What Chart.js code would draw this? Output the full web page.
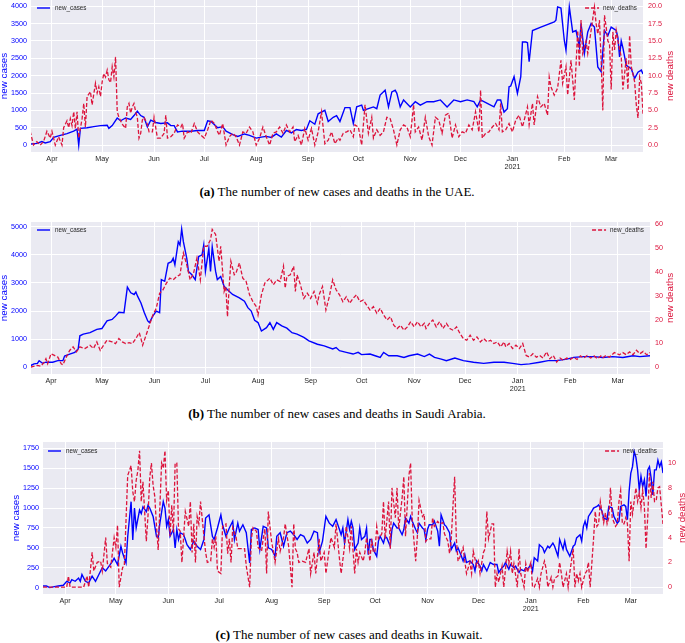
<!DOCTYPE html>
<html><head><meta charset="utf-8">
<script src="https://cdn.jsdelivr.net/npm/chart.js@4.4.0/dist/chart.umd.min.js"></script>
<style>
html,body{margin:0;padding:0;background:#fff;width:685px;height:643px;overflow:hidden;position:relative}
canvas{position:absolute;left:0}
.cap{position:absolute;font-family:"Liberation Serif","Times New Roman",serif;font-size:13px;line-height:13px;white-space:nowrap;color:#000;transform:translateX(-50%)}
</style></head><body>
<canvas id="ca" style="top:0;width:685px;height:178px" width="685" height="178"></canvas>
<canvas id="cb" style="top:210px;width:685px;height:190px" width="685" height="190"></canvas>
<canvas id="cc" style="top:430px;width:685px;height:181px" width="685" height="181"></canvas>
<div class="cap" style="left:337px;top:184.6px"><b>(a)</b> The number of new cases and deaths in the UAE.</div>
<div class="cap" style="left:337px;top:406.6px"><b>(b)</b> The number of new cases and deaths in Saudi Arabia.</div>
<div class="cap" style="left:349px;top:628.3px"><b>(c)</b> The number of new cases and deaths in Kuwait.</div>
<script>
// day 0 = 2020-03-19
const START_DATE = '2020-03-19';
const monthTickDays = [13,43,74,104,135,166,196,227,257,288,319,347];
const monthTickLabels = ['Apr','May','Jun','Jul','Aug','Sep','Oct','Nov','Dec',['Jan','2021'],'Feb','Mar'];

// [day offset, value]
const uaeNewCases = [[0,30],[4,50],[7,100],[9,60],[12,100],[14,220],[18,280],[22,330],[26,400],[28,460],[29,0],[30,480],[34,500],[38,530],[42,560],[46,570],[47,480],[49,560],[52,780],[54,700],[57,780],[60,740],[62,850],[64,980],[66,850],[68,800],[70,520],[72,720],[75,650],[78,620],[82,640],[84,560],[86,560],[88,380],[91,400],[96,400],[100,420],[104,420],[106,700],[108,680],[112,500],[115,530],[117,400],[121,300],[124,250],[128,320],[131,280],[135,200],[138,230],[141,250],[144,220],[147,320],[150,230],[153,420],[156,350],[159,450],[162,420],[165,450],[167,700],[170,600],[172,900],[176,1000],[178,680],[181,800],[183,850],[185,680],[188,1080],[191,1080],[193,620],[195,1100],[198,1150],[199,1000],[202,1050],[205,1100],[207,1050],[209,1440],[212,1580],[214,1100],[216,1530],[218,1580],[219,1490],[221,1100],[223,1300],[227,1100],[230,1250],[233,1150],[237,1250],[241,1250],[245,1300],[249,1100],[253,1300],[257,1250],[261,1300],[265,1250],[267,1100],[269,1300],[273,1200],[277,1100],[279,1300],[281,1300],[283,950],[285,1050],[286,1680],[287,1700],[289,1970],[291,1490],[293,1970],[294,2970],[296,2970],[297,2950],[298,2400],[300,3300],[305,3400],[313,3550],[314,3600],[315,3980],[317,3950],[319,3020],[320,2730],[322,3980],[324,3260],[326,3300],[328,2830],[329,3500],[331,2640],[333,3260],[335,3500],[337,3400],[339,2250],[341,2110],[343,3300],[345,3150],[347,3400],[350,3300],[351,3100],[352,2540],[353,3000],[354,2800],[356,2300],[359,2200],[361,1920],[363,2100],[365,2160],[366,2050]];
const uaeNewDeaths = [[0,2],[2,0],[4,0.5],[6,0],[8,0.5],[10,2],[12,1],[13,2],[15,0],[17,1.2],[19,0],[20,2.5],[22,3.5],[23,2.5],[24,3.8],[25,2.8],[26,4.8],[27,2.4],[28,4.8],[29,1],[31,3.8],[32,6],[33,2.6],[34,7],[36,7.7],[37,5.8],[39,8.9],[40,7.5],[41,8.4],[42,7],[43,9.1],[44,10.3],[45,9.8],[46,10.8],[47,9.4],[48,9],[49,11.3],[50,9.8],[51,12.7],[52,4.8],[53,4],[55,3],[57,2.4],[58,5.5],[59,6],[60,4.6],[61,5.5],[62,6],[63,4.8],[64,4],[65,1],[66,1.7],[67,3.6],[68,4],[70,3],[71,1.9],[73,1.9],[74,4],[76,1],[78,1],[80,1.7],[81,4.3],[82,1],[84,1.2],[86,1.7],[88,2.9],[90,2.6],[91,3.1],[92,1],[94,1.9],[96,1.7],[98,3.1],[100,1.9],[102,1.4],[104,1],[106,2.2],[108,3.6],[110,3.1],[112,1.9],[113,1.4],[115,3.1],[117,0],[119,1.2],[121,1.7],[123,1.2],[125,0],[127,1.9],[129,1.7],[131,2.6],[133,1.9],[135,0],[137,1],[139,2.6],[141,1.2],[143,0],[145,1.7],[147,1.9],[149,2.6],[151,1.7],[153,2.9],[155,1.9],[157,2.6],[158,0.5],[160,1.4],[162,0],[164,2.4],[166,0.7],[168,2.4],[170,0],[172,1.9],[174,4.8],[176,0.2],[178,0.7],[180,1.9],[182,0.2],[184,1],[185,0.7],[187,1.7],[189,1.9],[191,2.2],[193,1.2],[194,2.9],[196,2.6],[198,0],[200,5.8],[202,1.7],[204,4],[205,1],[207,2.2],[209,1.4],[211,1.9],[213,4],[215,3.8],[217,2.2],[219,0],[221,2.2],[223,2.9],[225,2.6],[227,1.2],[229,5.8],[230,1.9],[232,2.6],[234,0.7],[236,4],[238,1.2],[240,0],[242,4],[244,3.6],[246,1.7],[248,4.3],[250,4.6],[252,1],[254,2.9],[256,1.2],[258,1.9],[260,1.7],[262,2.9],[264,2.2],[266,4.8],[268,1.9],[269,7.9],[270,1],[272,1.7],[274,1.9],[276,2.6],[278,3.1],[280,2.2],[281,6],[282,1.9],[284,2.2],[286,3.1],[288,1.9],[290,3.6],[292,4.3],[294,2.6],[296,4.5],[297,5.5],[298,2.9],[300,6],[301,2.9],[303,7],[305,5.5],[307,6],[309,4.3],[310,9.8],[311,8.4],[313,7.2],[315,8.2],[317,12.2],[318,8.9],[320,11.3],[321,7.2],[323,12.2],[325,6.5],[327,16.5],[328,11.3],[329,18],[330,13.2],[332,15],[333,13.2],[335,16.5],[337,19.9],[338,17.5],[339,16],[340,18],[341,12.2],[342,5],[343,18.7],[344,17],[345,15],[346,14.6],[347,8],[348,16.3],[349,13.7],[350,16.5],[351,15],[353,12.7],[354,8],[356,12.5],[357,8],[358,15.8],[359,11.3],[361,9.1],[362,5.8],[363,3.9],[364,9.8],[365,8.9],[366,4.5]];

const ksaNewCases = [[1,60],[3,120],[5,140],[6,235],[8,140],[10,180],[14,180],[17,235],[20,235],[21,400],[24,470],[27,530],[29,650],[30,1120],[32,1180],[36,1230],[40,1350],[43,1380],[46,1650],[49,1700],[51,1820],[53,1960],[56,1940],[58,2850],[60,2650],[62,2590],[63,2680],[64,2530],[66,2290],[68,1940],[70,1650],[71,1590],[73,1820],[75,2000],[77,1940],[78,3120],[80,3060],[82,3700],[84,3760],[85,3880],[86,3650],[88,4470],[89,4350],[90,4920],[91,4470],[93,3880],[94,3410],[96,3290],[98,3120],[100,3940],[102,4000],[103,4350],[104,3410],[106,4230],[107,3410],[108,4290],[110,3410],[111,3120],[113,3230],[115,2880],[117,2760],[120,2590],[124,2470],[127,2350],[129,2120],[131,2000],[133,1670],[135,1590],[137,1290],[140,1410],[142,1590],[144,1350],[146,1590],[149,1470],[152,1390],[155,1230],[158,1180],[162,1060],[165,940],[170,820],[174,760],[179,650],[181,700],[183,590],[187,530],[191,470],[194,530],[196,450],[201,470],[204,410],[207,350],[209,530],[212,410],[217,410],[221,350],[224,410],[229,470],[233,380],[236,470],[239,350],[243,290],[246,235],[251,330],[256,235],[262,180],[268,140],[274,180],[280,180],[285,140],[290,95],[295,120],[301,180],[306,235],[311,235],[317,290],[321,350],[327,380],[333,380],[338,350],[344,380],[350,350],[356,410],[360,380],[366,410]];
const ksaNewDeaths = [[1,0],[5,0.7],[7,0.4],[9,2.1],[10,3.5],[11,1.4],[13,5.6],[15,4.9],[17,4.2],[19,1.4],[20,1],[22,4.2],[24,7],[26,8.5],[28,6.4],[30,8.5],[33,7.8],[36,9.2],[38,7.8],[40,10.6],[42,7],[44,9.2],[46,11.3],[49,10.6],[51,9.9],[53,12],[55,10.6],[57,9.9],[59,10.3],[61,9.9],[63,12],[65,14.5],[66,12],[67,9.2],[69,13.4],[71,17.6],[73,21.9],[75,24.7],[77,31],[79,32.5],[81,35.3],[83,37.4],[85,36.7],[87,38.1],[89,38.8],[91,48],[93,43],[95,36.7],[97,39.5],[99,45.9],[101,36.7],[103,50.8],[105,50.8],[107,53.6],[108,57.9],[110,55.8],[112,44.5],[113,50.8],[115,31.8],[116,33.9],[117,21.2],[118,33.9],[119,44.5],[121,38.8],[122,39.5],[124,43.8],[126,37.4],[128,36],[130,30.4],[132,27.5],[134,25.4],[135,21.9],[137,30.4],[139,35.3],[142,37.4],[144,34.6],[146,36.7],[148,36],[150,42.4],[151,33.2],[152,38.1],[154,38.8],[156,42.4],[157,31.8],[158,38.8],[160,34.6],[162,28.9],[164,31.1],[166,28.9],[168,31.8],[170,26.8],[171,30.4],[173,33.9],[175,24],[177,29.6],[179,36.7],[181,32.5],[183,30.4],[185,27.5],[187,29.6],[189,26.8],[191,28.9],[193,30.4],[195,27.5],[197,28.2],[199,26.1],[201,24],[203,25.4],[205,22.6],[207,24.7],[209,21.9],[211,19.8],[213,21.2],[215,17.6],[217,16.2],[219,17.6],[221,15.5],[223,16.9],[225,19.1],[227,16.9],[229,19.1],[231,16.9],[233,18.4],[234,16.2],[236,18.4],[238,19.8],[240,16.9],[242,19.1],[244,16.2],[246,18.4],[248,16.2],[250,15.5],[252,16.9],[254,14.1],[256,12],[258,11.3],[260,13.4],[262,11.3],[264,12.7],[266,10.6],[268,12],[270,10.6],[272,11.3],[274,9.9],[276,10.6],[278,8.5],[280,10.6],[281,8.5],[283,9.9],[285,7.8],[287,9.2],[289,7.8],[291,9.9],[293,4.9],[295,4.2],[297,5.6],[299,4.2],[301,4.9],[303,3.8],[305,6.4],[307,3.5],[309,4.9],[311,2.1],[313,3.8],[315,2.8],[317,3.8],[319,3.2],[321,4.2],[323,3.2],[325,4.7],[327,3.8],[329,4.9],[331,3.8],[333,4.7],[335,3.5],[337,4.7],[338,3.8],[340,4.9],[342,4.2],[345,6.1],[348,5.2],[350,6.1],[352,5.2],[354,6.4],[356,5.2],[358,7.1],[360,5.6],[362,6.6],[364,5.2],[366,6.1]];

const kwtNewCases = [[0,20],[2,20],[4,0],[6,10],[9,20],[12,30],[14,80],[16,60],[17,100],[19,80],[21,120],[22,80],[23,165],[25,80],[27,60],[29,145],[31,80],[33,165],[35,250],[37,210],[39,270],[41,330],[42,370],[44,290],[46,520],[47,435],[49,310],[50,640],[52,1080],[53,600],[54,1000],[55,750],[57,975],[58,930],[59,1015],[61,955],[62,1035],[63,1000],[65,895],[67,645],[68,625],[69,810],[71,1080],[72,1000],[73,770],[74,855],[75,645],[77,730],[78,500],[79,730],[80,605],[81,690],[83,665],[84,605],[85,540],[87,480],[89,585],[91,520],[93,480],[95,605],[96,875],[98,915],[100,645],[101,605],[103,750],[105,915],[106,790],[108,645],[110,750],[112,835],[113,605],[115,810],[116,710],[118,790],[120,690],[122,310],[123,730],[125,750],[127,730],[128,480],[130,770],[132,750],[133,500],[135,480],[137,395],[138,645],[140,690],[142,520],[144,690],[146,710],[148,665],[150,605],[152,665],[154,645],[156,560],[158,605],[160,710],[162,690],[163,440],[165,585],[167,895],[169,810],[171,770],[173,855],[175,730],[176,665],[177,750],[178,560],[180,855],[181,730],[182,835],[183,750],[184,480],[186,560],[187,750],[188,605],[190,645],[191,750],[192,415],[193,605],[194,605],[195,480],[197,395],[198,585],[199,645],[201,560],[202,645],[203,625],[205,520],[206,730],[207,810],[209,750],[210,750],[212,665],[213,730],[214,875],[216,810],[217,895],[218,835],[220,730],[221,690],[222,810],[224,750],[225,730],[226,605],[227,730],[228,790],[230,790],[231,835],[233,710],[234,520],[235,915],[237,790],[238,770],[240,690],[241,480],[243,560],[244,460],[245,500],[247,395],[248,335],[249,415],[250,315],[252,335],[254,290],[255,210],[256,335],[258,270],[259,210],[260,290],[262,210],[264,315],[266,290],[268,290],[269,190],[271,250],[272,270],[273,315],[275,230],[276,290],[278,250],[279,270],[281,190],[282,230],[284,210],[285,250],[286,230],[288,290],[289,210],[290,375],[292,335],[293,540],[295,500],[296,440],[298,520],[299,500],[301,560],[302,520],[304,395],[305,605],[307,480],[308,585],[309,480],[311,395],[313,520],[314,540],[315,625],[317,665],[318,585],[319,770],[320,835],[321,750],[322,895],[324,960],[325,1000],[327,1020],[328,1040],[330,960],[331,875],[333,855],[334,1020],[336,1000],[337,895],[339,810],[340,835],[341,1020],[343,1040],[344,1020],[345,855],[346,1210],[347,1440],[348,1520],[349,1710],[350,1640],[351,1480],[352,1230],[353,1400],[354,1270],[355,1355],[356,1145],[357,1480],[358,1520],[359,1375],[360,1165],[361,1480],[362,1480],[363,1600],[364,1520],[365,1580],[366,1440]];
const kwtNewDeaths = [[0,0],[14,0],[15,0.9],[16,0],[24,0],[26,0.9],[27,0],[29,2.8],[30,1.3],[32,2],[34,2.1],[35,1.3],[37,4],[38,1.9],[40,1.6],[42,4],[43,3.2],[44,5],[45,0],[47,1.6],[48,1.7],[50,9],[52,9.8],[53,7.7],[54,6.9],[55,8.6],[56,9.4],[57,11],[58,6.9],[59,8.5],[61,3.7],[62,5.8],[63,8.8],[64,10],[65,8.2],[66,7.3],[67,4.9],[68,3],[70,10],[71,9.6],[72,11],[73,7],[74,7.8],[75,4.1],[76,6.6],[77,4.4],[78,10],[79,10],[80,4.7],[81,4.5],[82,2],[84,6.1],[85,5.5],[86,4.9],[87,6.9],[88,2.8],[89,5.1],[90,2],[91,5.7],[92,5.1],[93,6.9],[95,4.1],[96,2.8],[97,2],[99,2.1],[100,3.9],[101,3.2],[102,4.1],[103,1.3],[105,1.1],[106,4.9],[108,5.1],[109,2.7],[110,3.9],[111,2],[112,4.8],[114,4],[115,3.1],[117,3.1],[119,3.1],[120,1.7],[122,0],[123,3.9],[124,4.8],[126,4.5],[127,3.2],[129,2.9],[130,3.9],[131,4.7],[132,1.1],[133,6.1],[135,3.6],[136,2.9],[137,2],[139,3.9],[140,2.9],[142,4],[143,5.1],[145,3.3],[146,1.7],[147,0],[148,5.1],[149,3.1],[150,2.8],[151,2],[153,2.1],[155,2],[157,3.1],[158,1.1],[160,2.8],[161,1.1],[163,3.9],[164,2.1],[166,2.8],[167,1.1],[169,3.1],[170,4],[172,3.2],[173,5.1],[175,2.3],[176,1.1],[178,3.3],[179,4.9],[181,3.1],[182,4.9],[184,1.1],[185,3.1],[186,2],[187,2.8],[189,2.1],[190,2.8],[191,4],[193,2.1],[194,3.9],[195,2.8],[196,2.9],[197,4.9],[198,3.9],[200,4.3],[201,6.9],[202,3.9],[204,6.9],[205,3.1],[206,8],[208,5.6],[209,8],[210,4.7],[212,7.2],[213,8.9],[214,4.1],[216,9],[217,10],[218,5.3],[220,2.1],[221,4.1],[222,7],[224,5.7],[225,5.9],[226,3.7],[227,3.9],[229,3.9],[230,5.6],[231,4.9],[233,5.3],[234,5.1],[236,5.2],[237,4.3],[239,3.7],[240,2.7],[241,3.9],[242,6.5],[243,8.9],[244,3.9],[245,2.1],[246,2.4],[248,3.2],[249,2.1],[250,1.1],[252,2],[253,1.1],[254,2.9],[256,1.7],[257,2.1],[258,1.1],[260,2.8],[261,3.1],[262,6.1],[263,3.9],[265,5.1],[266,5.1],[267,0],[268,1.1],[269,0.4],[271,1.7],[272,0],[274,2.9],[275,1.9],[276,2.9],[277,1.1],[278,1.9],[280,0],[281,3.1],[282,1.1],[284,0],[285,1.9],[286,1.2],[288,2],[289,0],[290,0],[292,0.7],[293,0],[294,1.1],[296,2.1],[297,1.5],[298,0],[300,0.8],[301,0],[302,0.7],[304,0.9],[305,2],[306,1.1],[307,0],[309,1.1],[310,0],[311,1.2],[313,3.1],[314,0],[315,1.1],[316,0.5],[317,1.1],[318,0],[320,1.1],[321,1.3],[322,2],[323,0],[325,3.9],[326,6.1],[327,4.9],[328,5.1],[329,6.9],[331,5.2],[332,6],[333,5.1],[334,5.6],[335,8],[336,5.6],[338,4.9],[339,5.1],[340,6.9],[341,7.8],[342,5.1],[343,5.1],[344,5.6],[345,5.1],[346,2.1],[347,6.9],[348,5.9],[350,8],[351,6.9],[352,7.6],[353,6.4],[354,7.8],[355,6.5],[356,3.1],[357,5.7],[358,9.2],[359,7.2],[360,8.5],[361,6.9],[362,7],[363,8],[364,8.1],[366,5.1]];

const uaeCaseTicks = [0,500,1000,1500,2000,2500,3000,3500,4000];
const uaeDeathTicks = [0,2.5,5,7.5,10,12.5,15,17.5,20];
const ksaCaseTicks = [0,1000,2000,3000,4000,5000];
const ksaDeathTicks = [0,10,20,30,40,50,60];
const kwtCaseTicks = [0,250,500,750,1000,1250,1500,1750];
const kwtDeathTicks = [0,2,4,6,8,10];

const FONT = '"Liberation Sans", Arial, sans-serif';
const BLUE = '#0000ff', RED = '#dc143c';

const decoPlugin = {
  id: 'deco',
  beforeDraw(chart) {
    const {ctx, chartArea: a} = chart;
    ctx.save();
    ctx.fillStyle = '#EAEAF2';
    ctx.fillRect(a.left, a.top, a.right - a.left, a.bottom - a.top);
    ctx.restore();
  },
  afterDraw(chart, args, o) {
    const {ctx, chartArea: a} = chart;
    const ds = chart.data.datasets;
    ctx.save();
    ctx.font = '6.3px ' + FONT;
    ctx.textBaseline = 'middle';
    const y = a.top + o.dy;
    ctx.lineWidth = 1.4;
    ctx.strokeStyle = BLUE; ctx.setLineDash([]);
    ctx.beginPath(); ctx.moveTo(a.left + o.lx, y); ctx.lineTo(a.left + o.lx + 13, y); ctx.stroke();
    ctx.fillStyle = '#262626'; ctx.textAlign = 'left';
    ctx.fillText(ds[0].label, a.left + o.lx + 18, y);
    ctx.textAlign = 'right';
    const tw = ctx.measureText(ds[1].label).width;
    const tx = a.right - o.rx;
    ctx.fillText(ds[1].label, tx, y);
    ctx.strokeStyle = RED; ctx.setLineDash([4, 2]);
    ctx.beginPath(); ctx.moveTo(tx - tw - 18, y); ctx.lineTo(tx - tw - 4, y); ctx.stroke();
    ctx.setLineDash([]);
    ctx.font = '9.8px ' + FONT;
    ctx.textAlign = 'center'; ctx.textBaseline = 'alphabetic';
    const cy = (a.top + a.bottom) / 2;
    ctx.save(); ctx.translate(o.ltx, cy); ctx.rotate(-Math.PI / 2);
    ctx.fillStyle = BLUE; ctx.fillText('new cases', 0, 0); ctx.restore();
    ctx.save(); ctx.translate(o.rtx, cy); ctx.rotate(-Math.PI / 2);
    ctx.fillStyle = RED; ctx.fillText('new deaths', 0, 0); ctx.restore();
    ctx.restore();
  }
};

function pts(series) { return series.map(p => ({x: p[0], y: p[1]})); }

function makeChart(id, c) {
  const tickFont = {family: FONT, size: 7.2, lineHeight: 1.1};
  new Chart(document.getElementById(id), {
    type: 'line',
    data: {datasets: [
      {label: 'new_cases', data: pts(c.cases), yAxisID: 'y', borderColor: BLUE, borderWidth: 1.4, pointRadius: 0, tension: 0, order: 1},
      {label: 'new_deaths', data: pts(c.deaths), yAxisID: 'y1', borderColor: RED, borderWidth: 1.3, borderDash: [4, 2], pointRadius: 0, tension: 0, order: 0}
    ]},
    options: {
      responsive: false, animation: false, events: [],
      layout: {padding: {top: c.padTop, left: 0, right: 0, bottom: 0}},
      plugins: {legend: {display: false}, tooltip: {enabled: false}, deco: c.deco},
      scales: {
        x: {
          type: 'linear', min: c.xmin, max: c.xmax,
          afterBuildTicks: s => { s.ticks = monthTickDays.map(v => ({value: v})); },
          afterFit: s => { s.height = c.xH; s.paddingLeft = 0; s.paddingRight = 0; },
          ticks: {autoSkip: false, maxRotation: 0, padding: 3, color: '#262626', font: tickFont,
                  callback: (v, i) => monthTickLabels[i]},
          grid: {color: '#ffffff', lineWidth: 1, drawTicks: false},
          border: {display: false}
        },
        y: {
          position: 'left', min: c.yL[0], max: c.yL[1],
          afterBuildTicks: s => { s.ticks = c.ticksL.map(v => ({value: v})); },
          afterFit: s => { s.width = c.wL; s.paddingTop = 0; s.paddingBottom = 0; },
          ticks: {autoSkip: false, padding: 4, color: BLUE, font: tickFont, callback: v => String(v)},
          grid: {color: '#ffffff', lineWidth: 1, drawTicks: false},
          border: {display: false}
        },
        y1: {
          position: 'right', min: c.yR[0], max: c.yR[1],
          afterBuildTicks: s => { s.ticks = c.ticksR.map(v => ({value: v})); },
          afterFit: s => { s.width = c.wR; s.paddingTop = 0; s.paddingBottom = 0; },
          ticks: {autoSkip: false, padding: 5, color: RED, font: tickFont, callback: c.fmtR},
          grid: {display: false, drawTicks: false},
          border: {display: false}
        }
      }
    },
    plugins: [decoPlugin]
  });
}

makeChart('ca', {
  cases: uaeNewCases, deaths: uaeNewDeaths, xmin: 0.5, xmax: 366,
  yL: [-200, 4180], yR: [-1, 20.9], ticksL: uaeCaseTicks, ticksR: uaeDeathTicks,
  fmtR: v => v.toFixed(1), wL: 31, wR: 42, xH: 26, padTop: 0,
  deco: {dy: 8, lx: 6, rx: 6, ltx: 7, rtx: 673}
});
makeChart('cb', {
  cases: ksaNewCases, deaths: ksaNewDeaths, xmin: 1.2, xmax: 366,
  yL: [-240, 5170], yR: [-2.9, 61], ticksL: ksaCaseTicks, ticksR: ksaDeathTicks,
  fmtR: v => String(v), wL: 31, wR: 35, xH: 26, padTop: 12,
  deco: {dy: 8, lx: 6, rx: 6, ltx: 6.5, rtx: 673}
});
makeChart('cc', {
  cases: kwtNewCases, deaths: kwtNewDeaths, xmin: 0, xmax: 366,
  yL: [-80, 1830], yR: [-0.55, 11.7], ticksL: kwtCaseTicks, ticksR: kwtDeathTicks,
  fmtR: v => String(v), wL: 43, wR: 22, xH: 17, padTop: 12,
  deco: {dy: 9, lx: 5, rx: 6, ltx: 19, rtx: 685}
});
</script>
</body></html>
